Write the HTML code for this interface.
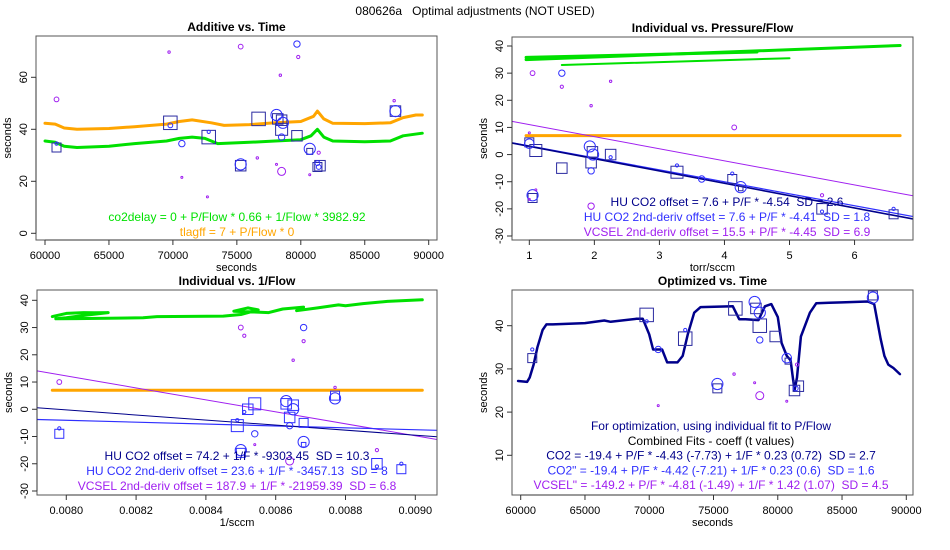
<!DOCTYPE html>
<html><head><meta charset="utf-8"><style>
body{margin:0;background:#fff}
svg{display:block;font-family:"Liberation Sans",sans-serif}
svg text{white-space:pre}
</style></head><body>
<svg id="c" width="950" height="550" xmlns="http://www.w3.org/2000/svg"></svg>
<script>
// ---------- Panel 1: Additive vs. Time ----------
const p1OrangeT=[60000,60800,61500,62500,65000,67000,69500,70500,71500,73000,74000,76000,78000,80000,81000,81300,81800,82500,85000,87000,88000,89000,89500];
const p1OrangeY=[42.3,42,40.5,40,40.3,41,42,43,43.6,42.5,41.5,41.8,42.5,43,45,47,44,42.3,42.2,42.5,44.5,45.5,45.5];
const p1GreenT=[60000,60800,61500,62500,65000,67000,69500,70500,71500,72500,73500,76000,78000,80000,80800,81300,81800,82500,85000,87000,88000,89500];
const p1GreenY=[35.5,35,33.5,33,33.5,34.5,35.5,36.5,37,36.5,34.5,35,35.5,36,37.5,40,37,35.5,35.2,35.5,37.5,38.5];
const p1SqX=[60900,69800,72800,75300,76700,78200,78500,78500,79700,80700,81300,81500,87400];
const p1SqY=[33,42.5,37,26,44,44,43.5,40,37.5,31.5,25.5,26,47];
const p1SqS=[6,9,9,7,9,7,7,8,7,4,6,7,7];
const p1CiX=[60900,69800,70700,72800,75300,78100,78600,78500,79700,80700,81300,81400,87400];
const p1CiY=[34.5,41.5,34.5,39,26.5,45.5,42.5,37,72.8,32.5,27,25.5,47];
const p1CiS=[2,3,4,2,7,7,7,4,4,7,3,3,7];
const p1PuX=[60900,69700,70700,72700,75300,76600,78100,78400,78500,79800,80700,81400,87300];
const p1PuY=[51.5,69.7,21.5,14,71.8,29,26.5,60.8,23.8,67.8,22.5,31,51];
const p1PuS=[3,1.5,1,1,3,1.5,1,1.5,5,2,1,2,1.5];
const p1XTicks=[60000,65000,70000,75000,80000,85000,90000];
const p1YTicks=[0,20,40,60];

// ---------- Panel 2: Individual vs. Pressure/Flow ----------
const p2GreenA=[[0.95,35],[6.7,40.2]];
const p2GreenB=[[0.95,35.8],[4.5,37.8]];
const p2GreenC=[[1.5,33],[5,35.5]];
const p2OrangeX=[0.95,6.7];
const p2OrangeY=[7,7];
const p2Fits=[[7.6,-4.54],[7.6,-4.41],[15.5,-4.45]];
const p2SqX=[1,1.1,1.05,1.5,1.95,1.97,2.25,3.27,4.12,4.25,5.5,6.6];
const p2SqY=[4.5,1.5,-16,-5,-3,1,0,-6.5,-9,-12.5,-20,-22];
const p2SqS=[6,8,6,7,7,7,7,8,6,3,7,6];
const p2CiX=[1,1.05,1.5,1.93,1.95,1.98,2.25,3.27,3.65,4.12,4.25,5.5,6.6];
const p2CiY=[4,-15,30,3,-6,0,-1,-4,-9,-7,-12,-21,-20];
const p2CiS=[6,7,4,7,4,7,2,2,4,2,7,2,2];
const p2PuX=[1.05,1.5,1.95,2.25,4.15,1.95,5.5,1.1,1,1];
const p2PuY=[30,25,18,27,10,-19,-15,-13,8,-16.5];
const p2PuS=[3,2,1.5,1.5,3,4,2,1,1,1];
const p2XTicks=[1,2,3,4,5,6];
const p2YTicks=[-30,-20,-10,0,10,20,30,40];

// ---------- Panel 3: Individual vs. 1/Flow ----------
const p3GreenX=[0.00796,0.00800,0.00805,0.00808,0.00812,0.00806,0.00800,0.00797,0.00803,0.00812,0.00822,0.00826,0.00845,0.00850,0.00855,0.00852,0.00848,0.00858,0.00862,0.00868,0.00866,0.00872,0.00878,0.00880,0.00885,0.00892,0.00902];
const p3GreenY=[34,35.2,35.5,35.4,35.5,34.6,33.6,33.2,33.3,33.4,33.6,34,34.2,34.8,36.5,37.2,36,35.5,36.8,37.5,36.2,37.2,38.3,38,38.8,39.6,40.2];
const p3OrangeX=[0.00796,0.00902];
const p3OrangeY=[7,7];
const p3Fits=[[74.2,-9303.45],[23.6,-3457.13],[187.9,-21959.39]];
const p3SqX=[0.00798,0.00849,0.00852,0.00854,0.00863,0.00865,0.00864,0.00868,0.00868,0.00877,0.00889,0.00896,0.00850];
const p3SqY=[-9,-6,0,2,2,1.5,-3,-5,-13,5,-20,-22,-16];
const p3SqS=[6,8,7,8,7,7,7,6,3,6,7,6,6];
const p3CiX=[0.00798,0.00849,0.00851,0.00850,0.00854,0.00863,0.00864,0.00865,0.00868,0.00868,0.00877,0.00889,0.00896];
const p3CiY=[-7,-4,-1,-15,-9,3,-6,0,30,-12,4,-21,-20];
const p3CiS=[2,2,2,7,4,7,4,7,4,7,7,2,2];
const p3PuX=[0.00798,0.00850,0.00851,0.00854,0.00865,0.00868,0.00864,0.00877,0.00889];
const p3PuY=[10,30,27,-13,18,25,-19,8,-15];
const p3PuS=[3,3,2,1,1.5,2,5,1.5,2];
const p3XTicks=[0.0080,0.0082,0.0084,0.0086,0.0088,0.0090];
const p3YTicks=[-30,-20,-10,0,10,20,30,40];

// ---------- Panel 4: Optimized vs. Time ----------
const p4LineT=[59800,60500,60700,61000,61300,61700,62000,62500,65000,66500,67000,69000,69500,70000,70300,71000,71400,72200,72600,73000,73500,74000,76500,77000,77500,78500,79000,79500,80000,80300,80700,81000,81300,81500,81800,82500,83000,84000,85000,87000,87500,88000,88300,88600,89000,89500];
const p4LineY=[27.2,27,28,31,35,39,40.3,40.3,40.6,41.2,40.9,41.6,41.6,38,34.5,34.5,31.5,31.5,33,38,43,44.3,44.5,41.5,41.5,41.3,44.5,45,42,36,33,32,25,28,37.5,43,45.2,45.3,45.4,45.6,45,37,33,31,30.2,28.8];
const p4SqX=[60900,69800,72800,75300,76700,78300,78600,79800,80800,81300,81600,87400];
const p4SqY=[32.5,42.5,37,25.5,44,44,40,37.5,31.8,25,26,47];
const p4SqS=[6,9,9,6,9,7,9,7,4,7,7,6];
const p4CiX=[60900,69800,70700,72800,75300,78200,78600,78600,80700,81400,87400];
const p4CiY=[34.5,41,34.5,39,26.5,45.5,43,36.7,32.5,25.5,46.5];
const p4CiS=[2,2,4,2,7,7,7,4,6,3,7];
const p4PuX=[70700,76600,78200,78600,80700,81500];
const p4PuY=[21.5,28.8,26.8,23.8,22.5,31];
const p4PuS=[1,1.5,1,5,1,2];
const p4XTicks=[60000,65000,70000,75000,80000,85000,90000];
const p4YTicks=[10,20,30,40];

const NS="http://www.w3.org/2000/svg";
const svg=document.getElementById('c');
const NAVY="#00008b",BLUE="#3030ff",PURPLE="#a020f0",GREEN="#00e000",ORANGE="#ffa500";
function mk(tag,attrs,parent){const e=document.createElementNS(NS,tag);for(const k in attrs)e.setAttribute(k,attrs[k]);(parent||svg).appendChild(e);return e;}
function lin(d0,d1,r0,r1){return v=>r0+(v-d0)*(r1-r0)/(d1-d0);}

function text(g,x,y,s,opts){const t=mk('text',{x:x,y:y,'font-size':opts.size||12,fill:opts.fill||'#000','text-anchor':opts.anchor||'middle','font-weight':opts.bold?'bold':'normal'},g);if(opts.rot)t.setAttribute('transform','rotate(-90 '+x+' '+y+')');t.textContent=s;return t;}

function panel(cfg){
  const g=mk('g',{});
  
  
  const X=lin(cfg.xd[0],cfg.xd[1],cfg.xr[0],cfg.xr[1]);
  const Y=lin(cfg.yd[0],cfg.yd[1],cfg.yr[0],cfg.yr[1]);
  const clipId='clip'+cfg.name;
  const cp=mk('clipPath',{id:clipId},g);
  mk('rect',{x:cfg.box[0],y:cfg.box[1],width:cfg.box[2]-cfg.box[0],height:cfg.box[3]-cfg.box[1]},cp);
  const plot=mk('g',{'clip-path':'url(#'+clipId+')'},g);
  
  
  return {g,plot,X,Y,cfg};
}
function axes(P){
  const {g,X,Y,cfg}=P;const b=cfg.box;
  const fr=mk('rect',{x:b[0],y:b[1],width:b[2]-b[0],height:b[3]-b[1],fill:'none',stroke:'#555','stroke-width':1},g);
  
  
  const xa=mk('g',{},g);
  
  
  const xt=cfg.xticks;
  mk('line',{x1:X(xt[0]),x2:X(xt[xt.length-1]),y1:b[3],y2:b[3],stroke:'#333'},xa);
  xt.forEach(v=>{mk('line',{x1:X(v),x2:X(v),y1:b[3],y2:b[3]+5,stroke:'#333'},xa);
    const t=text(xa,X(v),b[3]+19,cfg.xfmt(v),{size:11});
    
    });
  const xl=text(xa,(b[0]+b[2])/2,b[3]+31,cfg.xlab,{size:11});
  
  
  const ya=mk('g',{},g);
  
  
  const yt=cfg.yticks;
  mk('line',{x1:b[0],x2:b[0],y1:Y(yt[0]),y2:Y(yt[yt.length-1]),stroke:'#333'},ya);
  yt.forEach(v=>{mk('line',{x1:b[0]-5,x2:b[0],y1:Y(v),y2:Y(v),stroke:'#333'},ya);
    const t=text(ya,b[0]-9,Y(v),String(v),{size:11,rot:true});
    
    });
  const yl=text(ya,b[0]-25,(b[1]+b[3])/2,'seconds',{size:11,rot:true});
  
  
  const tt=text(g,(b[0]+b[2])/2,b[1]-5,cfg.title,{size:12,bold:true});
  
  
}
function line(P,xs,ys,color,w,name){
  const pts=xs.map((x,i)=>P.X(x).toFixed(1)+','+P.Y(ys[i]).toFixed(1)).join(' ');
  const l=mk('polyline',{points:pts,fill:'none',stroke:color,'stroke-width':w,'stroke-linejoin':'round','stroke-linecap':'round'},P.plot);
  
  
}
function fitLine(P,fit,color,w,name){
  const x0=P.cfg.xd[0],x1=P.cfg.xd[1];
  line(P,[x0,x1],[fit[0]+fit[1]*x0,fit[0]+fit[1]*x1],color,w,name);
}
function squares(P,xs,ys,ss,color){
  xs.forEach((x,i)=>{const h=ss[i]*0.75;
    const r=mk('rect',{x:P.X(x)-h,y:P.Y(ys[i])-h,width:2*h,height:2*h,fill:'none',stroke:color,'stroke-width':1},P.plot);
    
    });
}
function circles(P,xs,ys,ss,color,name){
  xs.forEach((x,i)=>{
    const c=mk('circle',{cx:P.X(x),cy:P.Y(ys[i]),r:Math.max(1,ss[i]*0.8),fill:'none',stroke:color,'stroke-width':1},P.plot);
    
    });
}
function labels(P,lines,x,y0,dy){
  lines.forEach((l,i)=>{const t=text(P.g,x,y0+i*dy,l[0],{size:12,fill:l[1]});
    
    });
}

// main title
const mt=text(svg,475,15,'080626a   Optimal adjustments (NOT USED)',{size:12});



// Panel 1
let P=panel({name:'panel-additive-vs-time',title:'Additive vs. Time',box:[36,36,437,240],xd:[59660,90000],xr:[32,428.7],yd:[0,60],yr:[233.3,77.3],xticks:p1XTicks,yticks:p1YTicks,xlab:'seconds',xfmt:v=>String(v)});
P.X=lin(60000,90000,45,428.7);P.cfg.xd=[60000-9*30000/383.7,90000+8.3*30000/383.7];
line(P,p1OrangeT,p1OrangeY,ORANGE,3,'tlagff-line');
line(P,p1GreenT,p1GreenY,GREEN,3,'co2delay-line');
squares(P,p1SqX,p1SqY,p1SqS,'#2a2aa0');
circles(P,p1CiX,p1CiY,p1CiS,BLUE,'hu-co2-2nd-deriv-marker');
circles(P,p1PuX,p1PuY,p1PuS,PURPLE,'vcsel-marker');
axes(P);
labels(P,[['co2delay = 0 + P/Flow * 0.66 + 1/Flow * 3982.92',GREEN],['tlagff = 7 + P/Flow * 0','#ffa500']],237,221,15);

// Panel 2
P=panel({name:'panel-individual-vs-pressure-flow',title:'Individual vs. Pressure/Flow',box:[512,37,913,240],xd:[1-17.3/65,6+58.4/65],xr:[512,913],yd:[40,-30],yr:[46,236],xticks:p2XTicks,yticks:p2YTicks,xlab:'torr/sccm',xfmt:v=>String(v)});
[p2GreenA,p2GreenB,p2GreenC].forEach((s,i)=>line(P,s.map(p=>p[0]),s.map(p=>p[1]),GREEN,i==2?2:3,'co2delay-band'));
line(P,p2OrangeX,p2OrangeY,ORANGE,3,'tlagff-line');
fitLine(P,p2Fits[2],PURPLE,1,'vcsel-fit-line');
fitLine(P,p2Fits[1],BLUE,1.2,'hu-co2-2nd-deriv-fit-line');
fitLine(P,p2Fits[0],NAVY,1.6,'hu-co2-fit-line');
squares(P,p2SqX,p2SqY,p2SqS,'#2a2aa0');
circles(P,p2CiX,p2CiY,p2CiS,BLUE,'hu-co2-2nd-deriv-marker');
circles(P,p2PuX,p2PuY,p2PuS,PURPLE,'vcsel-marker');
axes(P);
labels(P,[['HU CO2 offset = 7.6 + P/F * -4.54  SD = 2.6',NAVY],['HU CO2 2nd-deriv offset = 7.6 + P/F * -4.41  SD = 1.8',BLUE],['VCSEL 2nd-deriv offset = 15.5 + P/F * -4.45  SD = 6.9',PURPLE]],727,206,15);

// Panel 3
const p3s=349.3/0.001;
P=panel({name:'panel-individual-vs-inverse-flow',title:'Individual vs. 1/Flow',box:[37,290,437,495],xd:[0.0080-29.3/p3s,0.0090+21.7/p3s],xr:[37,437],yd:[40,-30],yr:[300.3,491],xticks:p3XTicks,yticks:p3YTicks,xlab:'1/sccm',xfmt:v=>v.toFixed(4)});
line(P,p3GreenX,p3GreenY,GREEN,3,'co2delay-band');
line(P,p3OrangeX,p3OrangeY,ORANGE,3,'tlagff-line');
fitLine(P,p3Fits[2],PURPLE,1,'vcsel-fit-line');
fitLine(P,p3Fits[1],BLUE,1.2,'hu-co2-2nd-deriv-fit-line');
fitLine(P,p3Fits[0],NAVY,1,'hu-co2-fit-line');
squares(P,p3SqX,p3SqY,p3SqS,BLUE);
circles(P,p3CiX,p3CiY,p3CiS,BLUE,'hu-co2-2nd-deriv-marker');
circles(P,p3PuX,p3PuY,p3PuS,PURPLE,'vcsel-marker');
axes(P);
labels(P,[['HU CO2 offset = 74.2 + 1/F * -9303.45  SD = 10.3',NAVY],['HU CO2 2nd-deriv offset = 23.6 + 1/F * -3457.13  SD = 8',BLUE],['VCSEL 2nd-deriv offset = 187.9 + 1/F * -21959.39  SD = 6.8',PURPLE]],237,460,15);

// Panel 4
const p4s=385.3/30000;
P=panel({name:'panel-optimized-vs-time',title:'Optimized vs. Time',box:[512,290,913,495],xd:[60000-8.7/p4s,90000+6.7/p4s],xr:[512,913],yd:[40,10],yr:[325.7,455.3],xticks:p4XTicks,yticks:p4YTicks,xlab:'seconds',xfmt:v=>String(v)});
line(P,p4LineT,p4LineY,NAVY,2.5,'optimized-line');
squares(P,p4SqX,p4SqY,p4SqS,'#2a2aa0');
circles(P,p4CiX,p4CiY,p4CiS,BLUE,'hu-co2-2nd-deriv-marker');
circles(P,p4PuX,p4PuY,p4PuS,PURPLE,'vcsel-marker');
axes(P);
labels(P,[['For optimization, using individual fit to P/Flow',NAVY],['Combined Fits - coeff (t values)','#000'],['CO2 = -19.4 + P/F * -4.43 (-7.73) + 1/F * 0.23 (0.72)  SD = 2.7',NAVY],['CO2" = -19.4 + P/F * -4.42 (-7.21) + 1/F * 0.23 (0.6)  SD = 1.6',BLUE],['VCSEL" = -149.2 + P/F * -4.81 (-1.49) + 1/F * 1.42 (1.07)  SD = 4.5',PURPLE]],711,430,14.8);
</script>
</body></html>
